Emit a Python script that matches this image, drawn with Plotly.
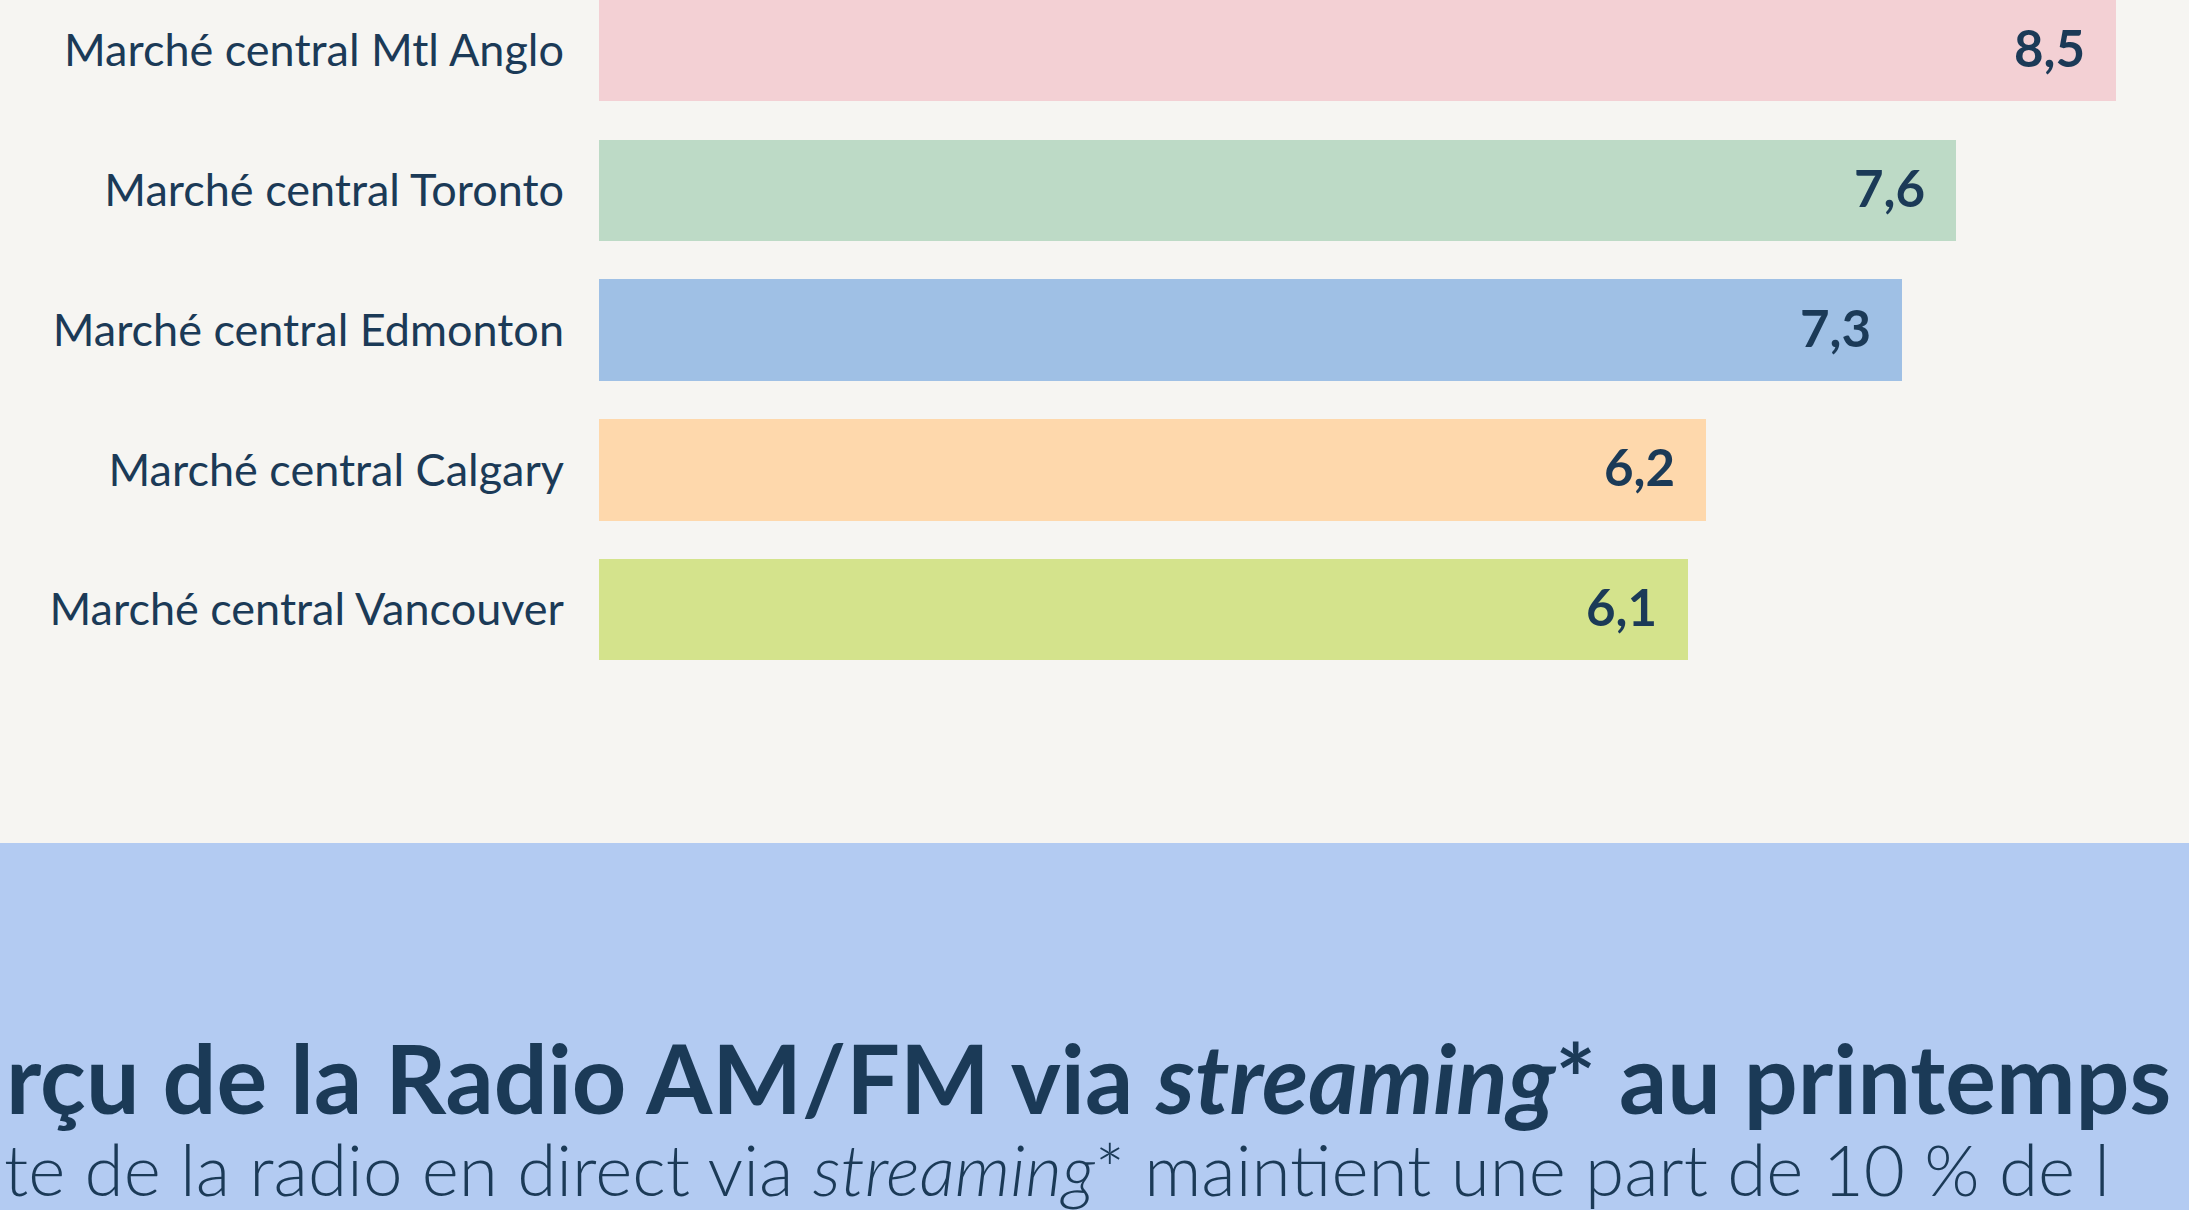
import plotly.graph_objects as go

# ---- data ----
markets = ["Marché central Mtl Anglo", "Marché central Toronto", "Marché central Edmonton",
           "Marché central Calgary", "Marché central Vancouver"]
values = [8.5, 7.6, 7.3, 6.2, 6.1]
value_labels = ["8,5", "7,6", "7,3", "6,2", "6,1"]
bar_colors = ["#F3D0D4", "#BDDAC6", "#9FC0E5", "#FED8AC", "#D4E38C"]

# visible (cropped) text fragments of the reference
title_text = "rçu de la Radio AM/FM via <i>streaming</i>* au printemps"
subtitle_text = "te de la radio en direct via <i>streaming</i>* maintient une part de 10 % de l"

W, H = 2189, 1210
NAVY = "#1B3A57"
BG = "#F6F5F2"
PANEL = "#B3CBF2"

L = 599
plot_w = W - L
px_per_unit = 178.5
row_px = 139.7
top_off = 50.7

fig = go.Figure()
fig.add_trace(go.Bar(
    x=values, y=markets, orientation="h",
    marker=dict(color=bar_colors, line=dict(width=0)),
    width=0.727, hoverinfo="skip", showlegend=False,
))

for m, v, t in zip(markets, values, value_labels):
    fig.add_annotation(x=v, y=m, xref="x", yref="y", text=t, showarrow=False,
                       xanchor="right", yanchor="middle", xshift=-29, yshift=3,
                       font=dict(family="Lato", size=51, color=NAVY, weight="bold"))

# lower blue panel
panel_top = 843
fig.add_shape(type="rect", xref="paper", yref="paper",
              x0=-L / plot_w, x1=1, y0=0, y1=(H - panel_top) / H,
              fillcolor=PANEL, line=dict(width=0), layer="below")

fig.add_annotation(xref="paper", yref="paper", x=(4 - L) / plot_w, y=(H - 1018) / H,
                   xanchor="left", yanchor="top", text="<b>" + title_text + "</b>",
                   showarrow=False, font=dict(family="Lato", size=95, color=NAVY))
fig.add_annotation(xref="paper", yref="paper", x=(2 - L) / plot_w, y=(H - 1124) / H,
                   xanchor="left", yanchor="top", text=subtitle_text,
                   showarrow=False, font=dict(family="Lato", size=71, color=NAVY, weight=300))

y_top = -top_off / row_px
y_bot = y_top + H / row_px
fig.update_layout(
    width=W, height=H,
    margin=dict(l=L, r=0, t=0, b=0, pad=0),
    paper_bgcolor=BG, plot_bgcolor="rgba(0,0,0,0)",
    bargap=0,
    xaxis=dict(range=[0, plot_w / px_per_unit], visible=False, showgrid=False, zeroline=False),
    yaxis=dict(type="category", categoryorder="array", categoryarray=markets,
               range=[y_bot, y_top], showgrid=False, zeroline=False, showline=False,
               ticks="", ticklabelstandoff=34,
               tickfont=dict(family="Lato", size=45, color=NAVY)),
)

fig.write_html("out.html", config={"displayModeBar": False},
               post_script="document.body.style.margin='0';document.body.style.overflow='hidden';")
